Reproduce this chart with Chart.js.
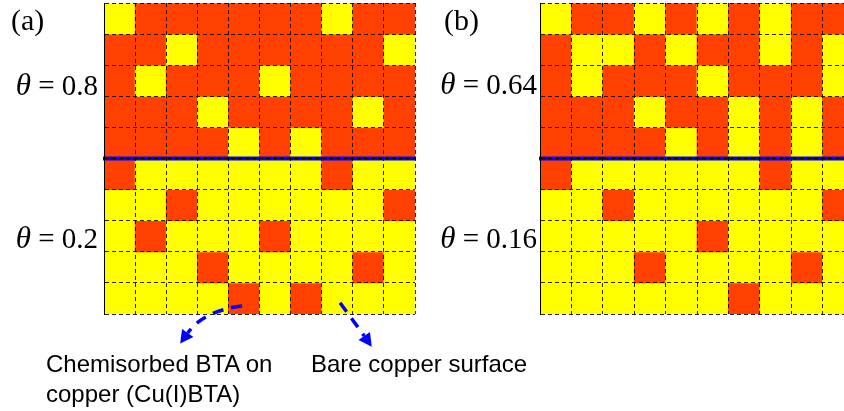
<!DOCTYPE html>
<html>
<head>
<meta charset="utf-8">
<title>BTA coverage maps</title>
<script src="https://cdn.jsdelivr.net/npm/chart.js@4.4.1/dist/chart.umd.min.js"></script>
<style>
    html, body { margin: 0; padding: 0; width: 844px; height: 411px; overflow: hidden; background: #fff; }
    .box { position: absolute; }
    .lbl { position: absolute; font-family: "Liberation Serif", "Times New Roman", serif; font-size: 29px; line-height: 1; color: #000; white-space: nowrap; }
    .lbl i { font-style: italic; font-size: 31px; }
    .note { position: absolute; font-family: "Liberation Sans", Arial, sans-serif; font-size: 24px; line-height: 1; color: #000; white-space: nowrap; }
</style>
</head>
<body>

<div class="box" id="boxA" style="left:0; top:0; width:540px; height:411px;"><canvas id="chartA"></canvas></div>
<div class="box" id="boxB" style="left:539px; top:0; width:320px; height:320px;"><canvas id="chartB"></canvas></div>

<div class="lbl" style="left:11px; top:5px; font-size:30px;">(a)</div>
<div class="lbl" style="right:746px; top:69px;"><i>θ</i> = 0.8</div>
<div class="lbl" style="right:746px; top:222px;"><i>θ</i> = 0.2</div>

<div class="lbl" style="left:444px; top:5px; font-size:30px;">(b)</div>
<div class="lbl" style="right:307px; top:68px;"><i>θ</i> = 0.64</div>
<div class="lbl" style="right:307px; top:222px;"><i>θ</i> = 0.16</div>

<div class="note" style="left:46px; top:352px;">Chemisorbed BTA on</div>
<div class="note" style="left:46px; top:382px;">copper (Cu(I)BTA)</div>
<div class="note" style="left:311px; top:352px;">Bare copper surface</div>

<script>
// ============================================
// Coverage maps: 1 = chemisorbed BTA, 0 = bare copper
// ============================================

const columns = ["1", "2", "3", "4", "5", "6", "7", "8", "9", "10"];

// panel (a): theta = 0.8 above the line, 0.2 below
const coverageA = [
    [0, 1, 1, 1, 1, 1, 1, 0, 1, 1],
    [1, 1, 0, 1, 1, 1, 1, 1, 1, 0],
    [1, 0, 1, 1, 1, 0, 1, 1, 1, 1],
    [1, 1, 1, 0, 1, 1, 1, 1, 0, 1],
    [1, 1, 1, 1, 0, 1, 0, 1, 1, 1],
    [1, 0, 0, 0, 0, 0, 0, 1, 0, 0],
    [0, 0, 1, 0, 0, 0, 0, 0, 0, 1],
    [0, 1, 0, 0, 0, 1, 0, 0, 0, 0],
    [0, 0, 0, 1, 0, 0, 0, 0, 1, 0],
    [0, 0, 0, 0, 1, 0, 1, 0, 0, 0]
];

// panel (b): theta = 0.64 above the line, 0.16 below
const coverageB = [
    [0, 1, 1, 0, 1, 0, 1, 0, 1, 1],
    [1, 0, 0, 1, 0, 1, 1, 0, 1, 0],
    [1, 0, 1, 1, 1, 0, 1, 1, 1, 0],
    [1, 1, 1, 0, 1, 1, 0, 1, 0, 1],
    [1, 1, 1, 1, 0, 1, 0, 1, 0, 1],
    [1, 0, 0, 0, 0, 0, 0, 1, 0, 0],
    [0, 0, 1, 0, 0, 0, 0, 0, 0, 1],
    [0, 0, 0, 0, 0, 1, 0, 0, 0, 0],
    [0, 0, 0, 1, 0, 0, 0, 0, 1, 0],
    [0, 0, 0, 0, 0, 0, 1, 0, 0, 0]
];

const dividerRow = 5;

const BTA_COLOR = "#FF4000";
const COPPER_COLOR = "#FFFF00";

function buildDatasets(coverage) {
    return coverage.map((row, r) => ({
        data: columns.map(() => [r, r + 1]),
        backgroundColor: row.map((v) => (v ? BTA_COLOR : COPPER_COLOR)),
        borderWidth: 0,
        barPercentage: 1,
        categoryPercentage: 1,
        grouped: false
    }));
}

// blue divider between the two coverage halves
const dividerPlugin = {
    id: "divider",
    afterDatasetsDraw(chart) {
        const { ctx, chartArea } = chart;
        const y = chart.scales.y.getPixelForValue(dividerRow);
        ctx.save();
        ctx.strokeStyle = "#0000FF";
        ctx.lineWidth = 4;
        ctx.beginPath();
        ctx.moveTo(chartArea.left - 1, y);
        ctx.lineTo(chartArea.right + 1, y);
        ctx.stroke();
        ctx.restore();
    }
};

// dashed pointer arrows under panel (a), in cell units
const pointers = [
    { from: [4.44, 9.74], ctrl: [3.2, 9.9], to: [2.45, 10.95] },
    { from: [7.59, 9.64], ctrl: [8.1, 10.33], to: [8.61, 11.05] }
];

const pointerPlugin = {
    id: "pointers",
    afterDraw(chart) {
        const { ctx, chartArea } = chart;
        const cw = (chartArea.right - chartArea.left) / columns.length;
        const ch = (chartArea.bottom - chartArea.top) / coverageA.length;
        const px = (p) => [chartArea.left + p[0] * cw, chartArea.top + p[1] * ch];

        ctx.save();
        ctx.strokeStyle = "#0000FF";
        ctx.fillStyle = "#0000FF";
        pointers.forEach((a) => {
            const p0 = px(a.from), c = px(a.ctrl), p2 = px(a.to);
            const ang = Math.atan2(p2[1] - c[1], p2[0] - c[0]);
            const head = 13;
            const end = [p2[0] - Math.cos(ang) * head, p2[1] - Math.sin(ang) * head];
            ctx.lineWidth = 3.5;
            ctx.setLineDash([11, 8]);
            ctx.beginPath();
            ctx.moveTo(p0[0], p0[1]);
            ctx.quadraticCurveTo(c[0], c[1], end[0], end[1]);
            ctx.stroke();
            ctx.setLineDash([]);
            ctx.beginPath();
            ctx.moveTo(p2[0], p2[1]);
            ctx.lineTo(end[0] + Math.cos(ang + Math.PI / 2) * 7, end[1] + Math.sin(ang + Math.PI / 2) * 7);
            ctx.lineTo(end[0] + Math.cos(ang - Math.PI / 2) * 7, end[1] + Math.sin(ang - Math.PI / 2) * 7);
            ctx.closePath();
            ctx.fill();
        });
        ctx.restore();
    }
};

function makeGrid(canvasId, coverage, padding, extraPlugins) {
    const gridStyle = {
        color: "rgba(0,0,0,0.85)",
        lineWidth: 1,
        drawTicks: false,
        z: 1
    };

    return new Chart(document.getElementById(canvasId), {
        type: "bar",
        data: {
            labels: columns,
            datasets: buildDatasets(coverage)
        },
        options: {
            responsive: true,
            maintainAspectRatio: false,
            animation: false,
            events: [],
            layout: { padding: padding },
            plugins: {
                legend: { display: false },
                tooltip: { enabled: false }
            },
            scales: {
                x: {
                    offset: true,
                    ticks: { display: false },
                    grid: { ...gridStyle, offset: true },
                    border: { display: false, dash: [4, 3] }
                },
                y: {
                    type: "linear",
                    min: 0,
                    max: coverage.length,
                    reverse: true,
                    ticks: { display: false, stepSize: 1 },
                    grid: gridStyle,
                    border: { display: true, color: "#000", width: 1, dash: [4, 3], z: 2 }
                }
            }
        },
        plugins: [dividerPlugin].concat(extraPlugins)
    });
}

makeGrid("chartA", coverageA, { left: 104, top: 3, right: 125, bottom: 97 }, [pointerPlugin]);
makeGrid("chartB", coverageB, { left: 1, top: 3, right: 5, bottom: 6 }, []);
</script>
</body>
</html>
